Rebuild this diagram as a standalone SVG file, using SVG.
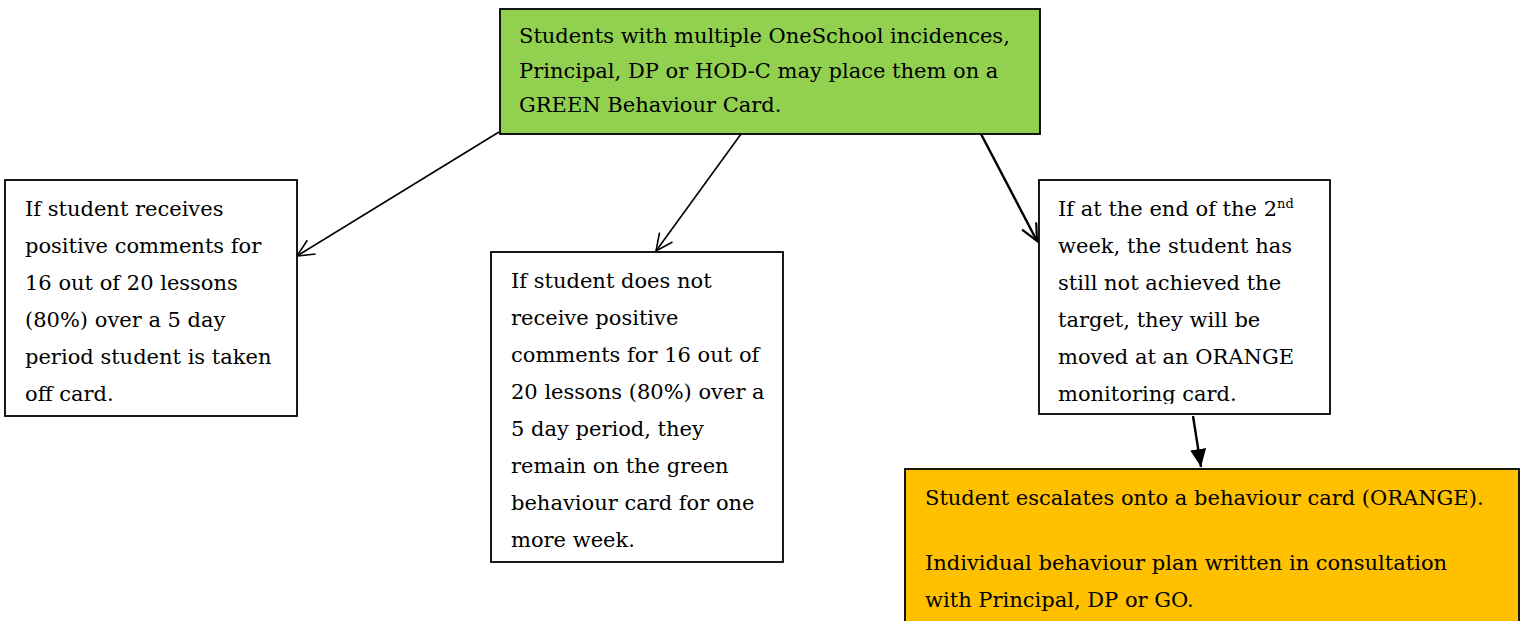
<svg xmlns="http://www.w3.org/2000/svg" width="1523" height="621" viewBox="0 0 1523 621">
<style>
.box{stroke:#000;stroke-width:1.8}
.t{font-family:"DejaVu Serif","Liberation Serif",serif;font-size:21px;fill:#000}
.c{fill:none;stroke:#000}
</style>
<defs>
<marker id="open" markerUnits="userSpaceOnUse" markerWidth="24" markerHeight="24" refX="18" refY="9" orient="auto">
<path d="M1,1 L18,9 L1,17" fill="none" stroke="#000" stroke-width="1.6"/>
</marker>
<marker id="open2" markerUnits="userSpaceOnUse" markerWidth="24" markerHeight="24" refX="18" refY="9" orient="auto">
<path d="M1,1 L18,9 L1,17" fill="none" stroke="#000" stroke-width="2.2"/>
</marker>
<marker id="fill" markerUnits="userSpaceOnUse" markerWidth="24" markerHeight="24" refX="18" refY="8" orient="auto">
<path d="M0,0 L18,8 L0,16 Z" fill="#000"/>
</marker>
<clipPath id="clipR"><rect x="1039" y="180" width="291" height="224"/></clipPath>
</defs>
<g id="connectors">
<line class="c" x1="499" y1="132" x2="297" y2="256" stroke-width="1.6" marker-end="url(#open)"/>
<line class="c" x1="741" y1="134" x2="656" y2="251" stroke-width="1.6" marker-end="url(#open)"/>
<line class="c" x1="981" y1="134" x2="1037" y2="241" stroke-width="2.4" marker-end="url(#open2)"/>
<line class="c" x1="1193" y1="416" x2="1201" y2="467" stroke-width="2.4" marker-end="url(#fill)"/>
</g>
<g id="green">
<rect class="box" x="500" y="9" width="540" height="125" fill="#92D050"/>
<text class="t" x="519" y="43">Students with multiple OneSchool incidences,</text>
<text class="t" x="519" y="78">Principal, DP or HOD-C may place them on a</text>
<text class="t" x="519" y="112">GREEN Behaviour Card.</text>
</g>
<g id="left">
<rect class="box" x="5" y="180" width="292" height="236" fill="#fff"/>
<text class="t" x="25" y="216">If student receives</text>
<text class="t" x="25" y="253">positive comments for</text>
<text class="t" x="25" y="290">16 out of 20 lessons</text>
<text class="t" x="25" y="327">(80%) over a 5 day</text>
<text class="t" x="25" y="364">period student is taken</text>
<text class="t" x="25" y="401">off card.</text>
</g>
<g id="middle">
<rect class="box" x="491" y="252" width="292" height="310" fill="#fff"/>
<text class="t" x="511" y="288">If student does not</text>
<text class="t" x="511" y="325">receive positive</text>
<text class="t" x="511" y="362">comments for 16 out of</text>
<text class="t" x="511" y="399">20 lessons (80%) over a</text>
<text class="t" x="511" y="436">5 day period, they</text>
<text class="t" x="511" y="473">remain on the green</text>
<text class="t" x="511" y="510">behaviour card for one</text>
<text class="t" x="511" y="547">more week.</text>
</g>
<g id="right">
<rect class="box" x="1039" y="180" width="291" height="234" fill="#fff"/>
<g clip-path="url(#clipR)">
<text class="t" x="1058" y="216">If at the end of the 2<tspan font-size="13" dy="-8">nd</tspan></text>
<text class="t" x="1058" y="253">week, the student has</text>
<text class="t" x="1058" y="290">still not achieved the</text>
<text class="t" x="1058" y="327">target, they will be</text>
<text class="t" x="1058" y="364">moved at an ORANGE</text>
<text class="t" x="1058" y="401">monitoring card.</text>
</g>
</g>
<g id="orange">
<rect class="box" x="905" y="469" width="614" height="170" fill="#FFC000"/>
<text class="t" x="925" y="505">Student escalates onto a behaviour card (ORANGE).</text>
<text class="t" x="925" y="570">Individual behaviour plan written in consultation</text>
<text class="t" x="925" y="607">with Principal, DP or GO.</text>
</g>
</svg>
